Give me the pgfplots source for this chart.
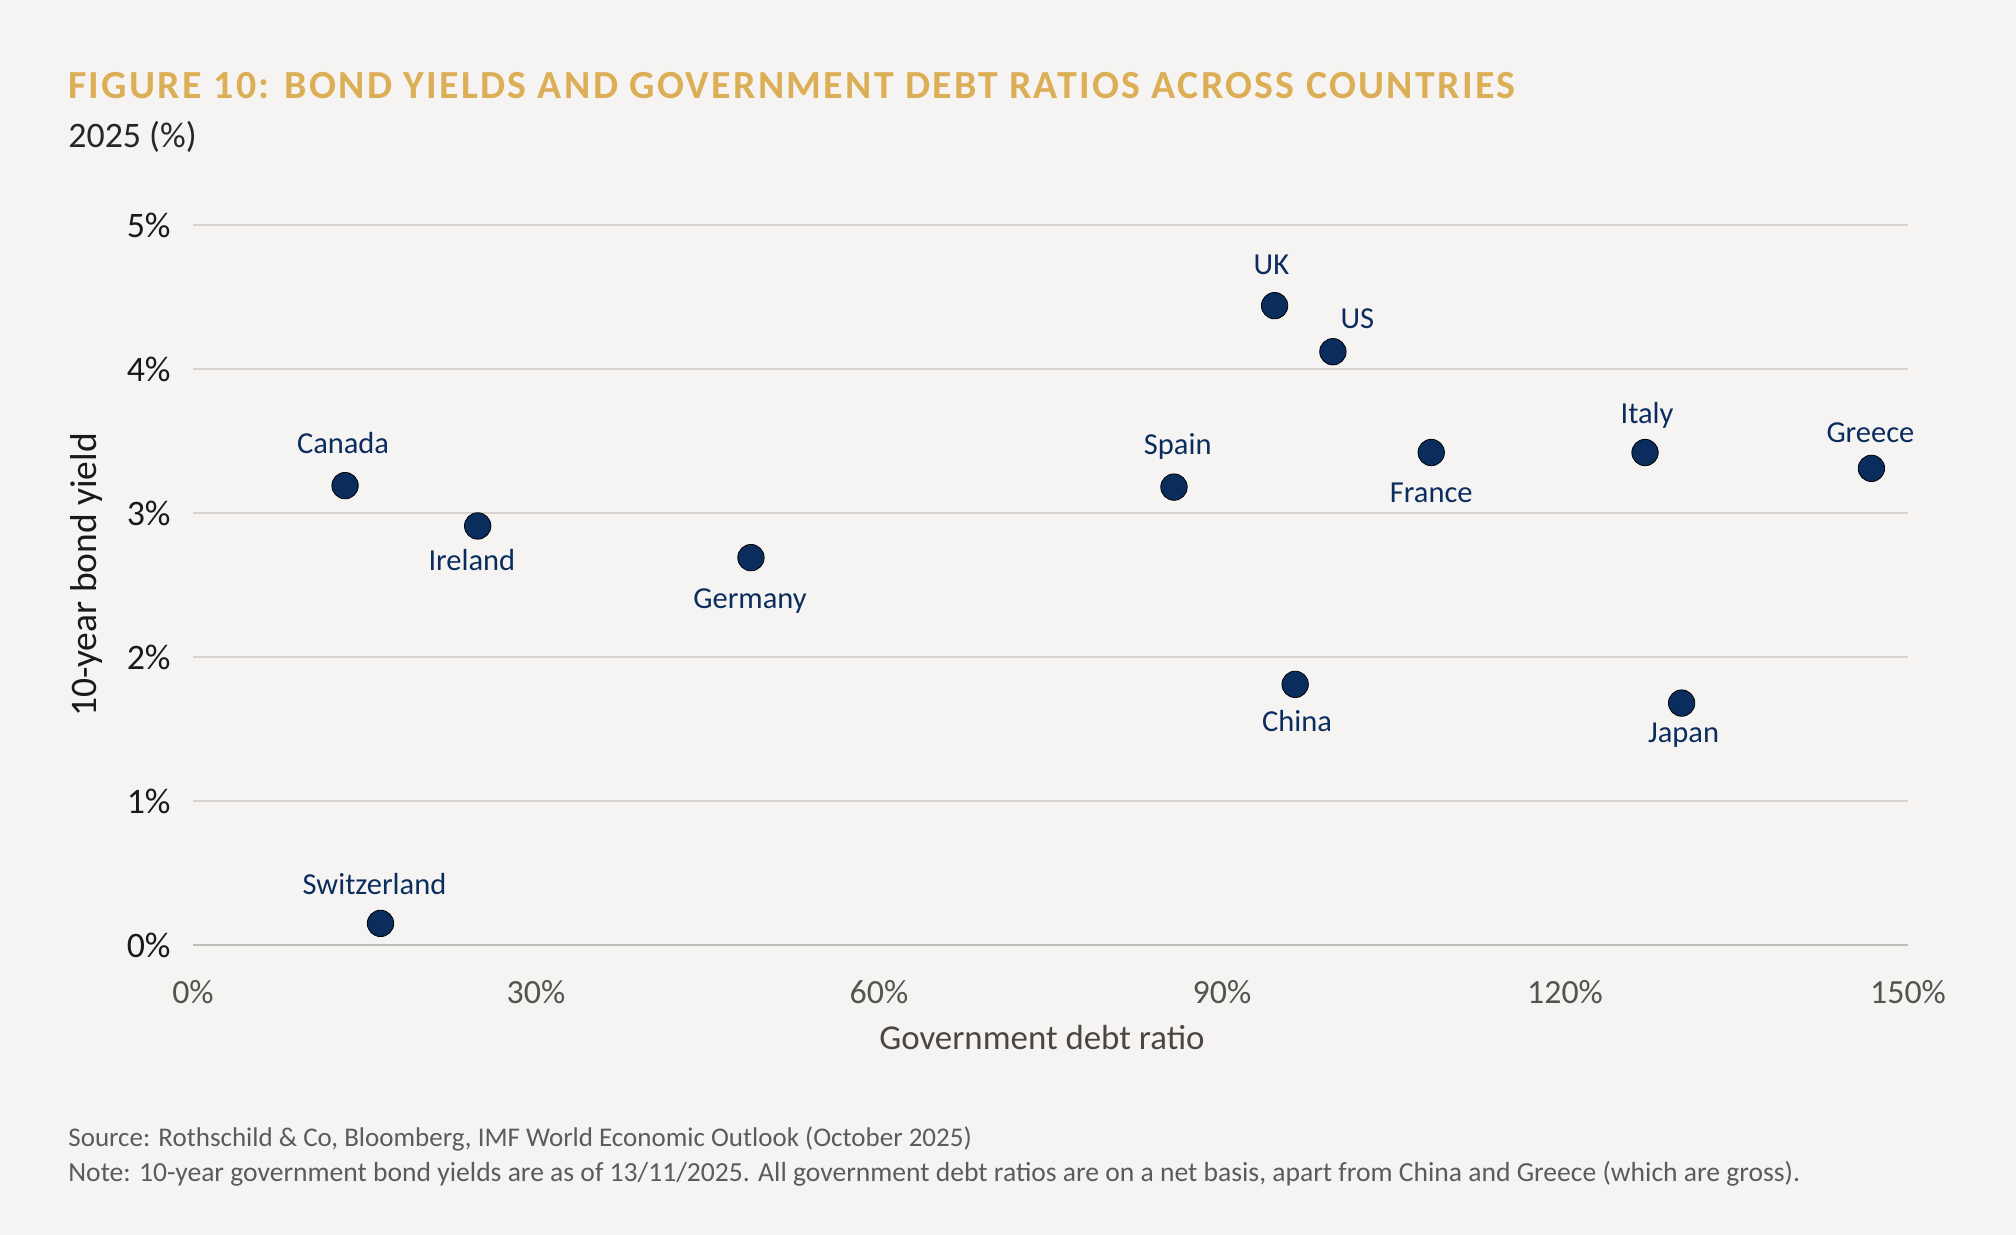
\documentclass[border=0pt]{standalone}
\usepackage{pgfplots}
\usepackage{pgfplotstable}
\pgfplotsset{compat=1.18}
\usepackage{fontspec}
\setmainfont{Carlito}
\newfontfamily\titlefont[LetterSpace=5.8]{Carlito}

\definecolor{bgcol}{HTML}{F6F4F3}
\definecolor{goldcol}{HTML}{DCAF57}
\definecolor{navy}{HTML}{0B2D5E}
\definecolor{gridcol}{HTML}{D9D3D0}
\definecolor{zerocol}{HTML}{BEBCB8}
\definecolor{ticktext}{HTML}{555350}
\definecolor{labtext}{HTML}{4A4643}
\definecolor{notetext}{HTML}{5D5B59}

% debt ratio (%), 10y yield (%), label shift (bp)
\pgfplotstableread{
name x y dx dy
Canada 13.3 3.19 -1 16.3
Ireland 24.9 2.91 -2.9 -22.5
Germany 48.8 2.69 -0.5 -25.2
Spain 85.8 3.18 1.9 16.2
UK 94.6 4.44 -1.6 15.8
US 99.7 4.12 12.2 11.7
France 108.3 3.42 0 -25.2
Italy 127.0 3.42 1 14.3
Greece 146.8 3.31 -0.5 13
China 96.4 1.81 1 -23.7
Japan 130.2 1.68 1 -19.5
Switzerland 16.4 0.15 -3 14.3
}\countries

\begin{document}
\begin{tikzpicture}
\fill[bgcol] (0,0) rectangle (1008bp,617.5bp);
\node[anchor=base west, inner sep=0, text=goldcol, font=\titlefont\bfseries\fontsize{20}{24}\selectfont]
  at (34bp,568bp) {FIGURE 10: BOND YIELDS AND GOVERNMENT DEBT RATIOS ACROSS COUNTRIES};
\node[anchor=base west, inner sep=0, text=black!85, font=\fontsize{18}{22}\selectfont]
  at (34bp,543.5bp) {2025 (\%)};
\node[anchor=base west, inner sep=0, text=notetext, font=\fontsize{13.55}{16}\selectfont]
  at (34bp,44bp) {Source: Rothschild \& Co, Bloomberg, IMF World Economic Outlook (October 2025)};
\node[anchor=base west, inner sep=0, text=notetext, font=\fontsize{13.85}{16}\selectfont]
  at (34bp,26.7bp) {Note: 10-year government bond yields are as of 13/11/2025. All government debt ratios are on a net basis, apart from China and Greece (which are gross).};

\begin{axis}[
    at={(96.5bp,145bp)},
    anchor=south west,
    scale only axis,
    width=857.5bp,
    height=360bp,
    xmin=0, xmax=150,
    ymin=0, ymax=5,
    clip=false,
    axis line style={draw=none},
    major tick length=0pt,
    xtick={0,30,...,150},
    ytick={0,1,...,5},
    ymajorgrids,
    grid style={gridcol, line width=0.7bp},
    extra y ticks={0},
    extra y tick labels={},
    extra y tick style={grid style={zerocol, line width=1.3bp}},
    /pgf/number format/assume math mode=true,
    xticklabel={\pgfmathprintnumber{\tick}\%},
    yticklabel={\pgfmathprintnumber{\tick}\%},
    xticklabel style={font=\fontsize{17}{20}\selectfont, text=ticktext, anchor=base, inner sep=0pt, yshift=-29.5bp},
    yticklabel style={font=\fontsize{18}{20}\selectfont, text=black!90, anchor=east, inner sep=0pt, xshift=-11bp},
    xlabel={Government debt ratio},
    ylabel={10-year bond yield},
    xlabel style={font=\fontsize{17.5}{20}\selectfont, text=labtext, at={(axis description cs:0.495,0)}, anchor=base, inner sep=0pt, yshift=-52.5bp},
    ylabel style={font=\fontsize{18.8}{20}\selectfont, text=black!90, at={(axis description cs:0,0.5)}, anchor=center, inner sep=0pt, yshift=53bp, xshift=5bp},
]
\addplot[
    only marks,
    mark=*,
    mark size=6.6bp,
    mark options={fill=navy, draw=none},
    point meta=explicit symbolic,
    visualization depends on={\thisrow{dx} \as \dx},
    visualization depends on={\thisrow{dy} \as \dy},
    nodes near coords,
    nodes near coords style={font=\fontsize{15.3}{17}\selectfont, text=navy, anchor=base, inner sep=0pt, xshift={\dx*1bp}, yshift={\dy*1bp}},
] table[x=x, y=y, meta=name] {\countries};
\end{axis}
\end{tikzpicture}
\end{document}
